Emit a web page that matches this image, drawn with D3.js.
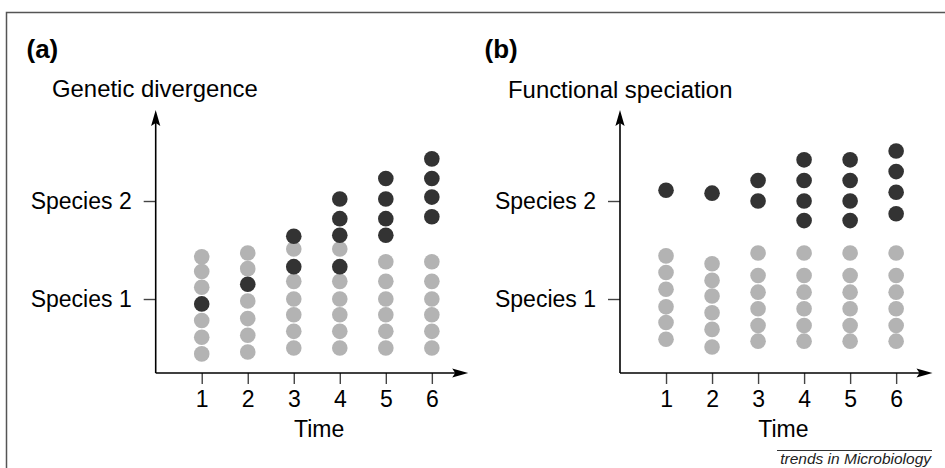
<!DOCTYPE html>
<html>
<head>
<meta charset="utf-8">
<script src="https://cdn.jsdelivr.net/npm/d3@7"></script>
<style>
  html, body { margin: 0; padding: 0; background: #fff; }
  svg { display: block; font-family: Arial, "Liberation Sans", Helvetica, sans-serif; }
</style>
</head>
<body>
<svg id="chart" width="945" height="468"></svg>
<script>
// ---- data ----
const timeLabels = [1, 2, 3, 4, 5, 6];
const speciesTicks = [1, 2];
const speciesLabels = ["Species 1", "Species 2"];

const panelTitles = ["Genetic divergence", "Functional speciation"];
const panelLetters = ["(a)", "(b)"];
const xLabel = "Time";

// panel (a): genetic divergence
const aGray = [
  [1.43, 1.28, 1.12, 0.78, 0.61, 0.44],
  [1.47, 1.31, 0.98, 0.80, 0.63, 0.46],
  [1.51, 1.18, 1.00, 0.84, 0.67, 0.50],
  [1.51, 1.18, 1.00, 0.84, 0.67, 0.50],
  [1.38, 1.18, 1.00, 0.84, 0.67, 0.50],
  [1.38, 1.18, 1.00, 0.84, 0.67, 0.50]
];
const aDark = [
  [0.95],
  [1.15],
  [1.64, 1.33],
  [2.02, 1.82, 1.65, 1.33],
  [2.23, 2.02, 1.82, 1.65],
  [2.43, 2.23, 2.04, 1.84]
];

// panel (b): functional speciation
const bGray = [
  [1.44, 1.27, 1.10, 0.92, 0.76, 0.59],
  [1.36, 1.19, 1.03, 0.86, 0.69, 0.51],
  [1.47, 1.24, 1.07, 0.90, 0.73, 0.57],
  [1.47, 1.24, 1.07, 0.90, 0.73, 0.57],
  [1.47, 1.24, 1.07, 0.90, 0.73, 0.57],
  [1.47, 1.24, 1.07, 0.90, 0.73, 0.57]
];
const bDark = [
  [2.11],
  [2.08],
  [2.21, 2.00],
  [2.42, 2.21, 2.00, 1.80],
  [2.42, 2.21, 2.00, 1.80],
  [2.51, 2.30, 2.09, 1.87]
];

const footer = "trends in Microbiology";

// ---- drawing ----
const svg = d3.select("#chart");
const GRAY = "#b3b3b3", DARK = "#333333";
const FS = 23;

// frame
svg.append("rect")
  .attr("x", 6.5).attr("y", 12.5)
  .attr("width", 960).attr("height", 500)
  .attr("fill", "none").attr("stroke", "#555").attr("stroke-width", 1.5);

const x = d3.scaleLinear().domain([0, 6.79]).range([0, 312.5]);
const y = d3.scaleLinear().domain([0.245, 2.898]).range([0, -260]);

const panels = [
  { ox: 155.7, oy: 373, gray: aGray, dark: aDark, letter: panelLetters[0], title: panelTitles[0],
    letterX: 26.5, titleX: 52, titleY: 96.5 },
  { ox: 620, oy: 373, gray: bGray, dark: bDark, letter: panelLetters[1], title: panelTitles[1],
    letterX: 484.5, titleX: 508, titleY: 98 }
];

panels.forEach(p => {
  svg.append("text")
    .attr("x", p.letterX).attr("y", 57.5)
    .attr("font-size", 26).attr("font-weight", "bold")
    .attr("fill", "#000")
    .text(p.letter);

  svg.append("text")
    .attr("x", p.titleX).attr("y", p.titleY)
    .attr("font-size", 23.9).attr("fill", "#000")
    .text(p.title);

  const g = svg.append("g").attr("transform", `translate(${p.ox},${p.oy})`);

  // y axis ticks and labels
  const yAxis = d3.axisLeft(y)
    .tickValues(speciesTicks)
    .tickFormat((d, i) => speciesLabels[i])
    .tickSize(12).tickPadding(12);
  const ya = g.append("g").call(yAxis);
  ya.select(".domain").remove();
  ya.selectAll(".tick line").attr("stroke", "#444").attr("stroke-width", 1.4);
  ya.selectAll(".tick text").attr("font-size", FS).attr("fill", "#000")
    .attr("font-family", "Arial, 'Liberation Sans', sans-serif");

  // x axis ticks and labels
  const xAxis = d3.axisBottom(x)
    .tickValues(timeLabels)
    .tickFormat(d3.format("d"))
    .tickSize(11).tickPadding(6.5);
  const xa = g.append("g").call(xAxis);
  xa.select(".domain").remove();
  xa.selectAll(".tick line").attr("stroke", "#444").attr("stroke-width", 1.4);
  xa.selectAll(".tick text").attr("font-size", FS).attr("fill", "#000")
    .attr("font-family", "Arial, 'Liberation Sans', sans-serif");

  // axis lines
  const yTop = y(2.898), xEnd = x(6.79);
  g.append("line").attr("x1", 0).attr("y1", 0).attr("x2", 0).attr("y2", yTop + 6)
    .attr("stroke", "#000").attr("stroke-width", 1.6);
  g.append("line").attr("x1", 0).attr("y1", 0).attr("x2", xEnd - 6).attr("y2", 0)
    .attr("stroke", "#000").attr("stroke-width", 1.6);
  // arrowheads
  g.append("path")
    .attr("d", `M0,${yTop - 3} L4.6,${yTop + 13} L0,${yTop + 10} L-4.6,${yTop + 13} Z`)
    .attr("fill", "#000");
  g.append("path")
    .attr("d", `M${xEnd},0 L${xEnd - 16},4.6 L${xEnd - 13},0 L${xEnd - 16},-4.6 Z`)
    .attr("fill", "#000");

  // x axis label
  g.append("text")
    .attr("x", x(3.55)).attr("y", 63.5)
    .attr("text-anchor", "middle")
    .attr("font-size", FS).attr("fill", "#000")
    .text(xLabel);

  // dots: gray first, dark on top
  const grayPts = [], darkPts = [];
  timeLabels.forEach((t, i) => {
    p.gray[i].forEach(v => grayPts.push({ t, v }));
    p.dark[i].forEach(v => darkPts.push({ t, v }));
  });
  g.append("g").selectAll("circle").data(grayPts).join("circle")
    .attr("cx", d => x(d.t)).attr("cy", d => y(d.v)).attr("r", 7.8)
    .attr("fill", GRAY);
  g.append("g").selectAll("circle").data(darkPts).join("circle")
    .attr("cx", d => x(d.t)).attr("cy", d => y(d.v)).attr("r", 7.8)
    .attr("fill", DARK);
});

// footer
svg.append("line")
  .attr("x1", 777).attr("x2", 932).attr("y1", 450.5).attr("y2", 450.5)
  .attr("stroke", "#333").attr("stroke-width", 1);
svg.append("text")
  .attr("x", 931).attr("y", 464)
  .attr("text-anchor", "end")
  .attr("font-size", 15.5).attr("font-style", "italic").attr("fill", "#222")
  .text(footer);
</script>
</body>
</html>
